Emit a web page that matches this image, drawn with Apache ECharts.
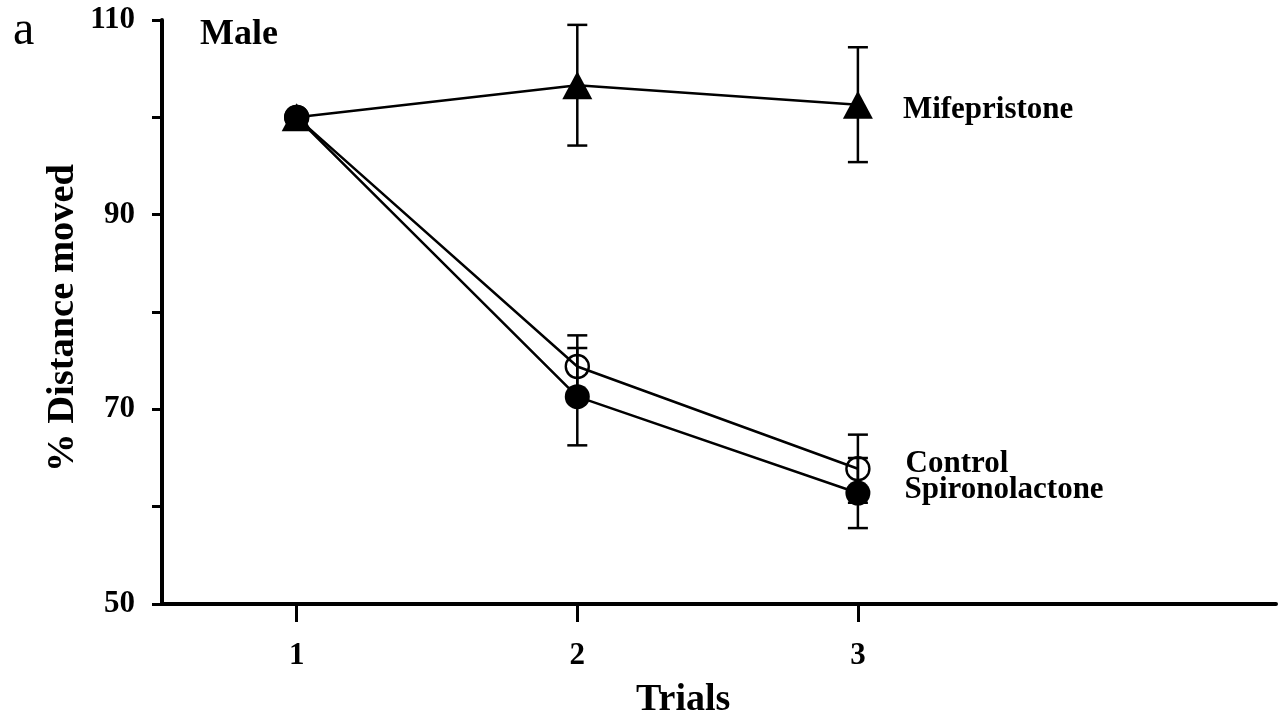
<!DOCTYPE html>
<html>
<head>
<meta charset="utf-8">
<title>Male – % Distance moved across trials</title>
<script src="https://cdn.jsdelivr.net/npm/echarts@6/dist/echarts.min.js"></script>
<style>
  html, body { margin: 0; padding: 0; background: #fff; }
  #chart { width: 1278px; height: 720px; }
</style>
</head>
<body>
<div id="chart"></div>
<script>
// Trial numbers on the x axis
const trials = [1, 2, 3];
const xTickLabels = ['1', '2', '3'];
const yTickLabels = [50, 70, 90, 110];

// Mean % distance moved per trial, with SEM
const mifepristone = [100, 103.3, 101.3];
const mifepristoneErr = [0, 6.2, 5.9];
const control = [100, 74.4, 63.9];
const controlErr = [0, 3.2, 3.5];
const spironolactone = [100, 71.3, 61.4];
const spironolactoneErr = [0, 5.0, 3.6];

const FONT = '"Liberation Serif", "Times New Roman", serif';

function points(values, labelText, labelOffset, labelDistance) {
  return trials.map((t, i) => {
    const item = { value: [t, values[i]] };
    if (i === trials.length - 1) {
      item.label = {
        show: true,
        position: 'right',
        distance: labelDistance,
        offset: labelOffset,
        formatter: labelText,
        color: '#000',
        fontFamily: FONT,
        fontWeight: 'bold',
        fontSize: 31
      };
    }
    return item;
  });
}

function errorData(values, errs) {
  return trials.map((t, i) => [t, values[i] - errs[i], values[i] + errs[i]])
    .filter((d, i) => errs[i] > 0);
}

function errorSeries(values, errs, z) {
  return {
    type: 'custom',
    z: z,
    silent: true,
    data: errorData(values, errs),
    renderItem: function (params, api) {
      const x = api.value(0);
      const lo = api.coord([x, api.value(1)]);
      const hi = api.coord([x, api.value(2)]);
      const half = 10;
      const style = { stroke: '#000', lineWidth: 2.5, fill: null };
      return {
        type: 'group',
        children: [
          { type: 'line', shape: { x1: lo[0], y1: lo[1], x2: hi[0], y2: hi[1] }, style: style },
          { type: 'line', shape: { x1: hi[0] - half, y1: hi[1], x2: hi[0] + half, y2: hi[1] }, style: style },
          { type: 'line', shape: { x1: lo[0] - half, y1: lo[1], x2: lo[0] + half, y2: lo[1] }, style: style }
        ]
      };
    }
  };
}

const chart = echarts.init(document.getElementById('chart'), null, { renderer: 'canvas' });

chart.setOption({
  backgroundColor: '#fff',
  animation: false,
  grid: { left: 162, top: 20, width: 1114, height: 584 },
  xAxis: {
    type: 'value',
    min: 0.52,
    max: 4.49,
    splitLine: { show: false },
    axisLine: { onZero: false, lineStyle: { color: '#000', width: 4 } },
    axisTick: { show: true, length: 18, lineStyle: { color: '#000', width: 3 }, customValues: trials },
    axisLabel: {
      customValues: trials,
      formatter: v => xTickLabels[trials.indexOf(v)] || '',
      margin: 36,
      color: '#000',
      fontFamily: FONT,
      fontWeight: 'bold',
      fontSize: 31
    }
  },
  yAxis: {
    type: 'value',
    min: 50,
    max: 110,
    interval: 10,
    splitLine: { show: false },
    axisLine: { show: true, lineStyle: { color: '#000', width: 4 } },
    axisTick: { show: true, length: 10, lineStyle: { color: '#000', width: 3 } },
    axisLabel: {
      formatter: v => (yTickLabels.indexOf(v) >= 0 ? String(v) : ''),
      margin: 27,
      color: '#000',
      fontFamily: FONT,
      fontWeight: 'bold',
      fontSize: 31
    }
  },
  graphic: [
    {
      type: 'text', left: 13, top: 7,
      style: { text: 'a', fill: '#000', font: 'normal 48px ' + FONT }
    },
    {
      type: 'text', left: 200, top: 17,
      style: { text: 'Male', fill: '#000', font: 'bold 36px ' + FONT }
    },
    {
      type: 'text', left: 636, top: 681,
      style: { text: 'Trials', fill: '#000', font: 'bold 38px ' + FONT }
    },
    {
      type: 'text',
      x: 63, y: 318,
      rotation: Math.PI / 2,
      style: {
        text: '% Distance moved',
        fill: '#000',
        font: 'bold 38.5px ' + FONT,
        align: 'center',
        verticalAlign: 'middle'
      }
    }
  ],
  series: [
    errorSeries(mifepristone, mifepristoneErr, 1),
    errorSeries(control, controlErr, 1),
    errorSeries(spironolactone, spironolactoneErr, 1),
    {
      name: 'Mifepristone',
      type: 'line',
      z: 3,
      data: points(mifepristone, 'Mifepristone', [0, 5], 30),
      symbol: 'triangle',
      symbolSize: [30, 28],
      lineStyle: { color: '#000', width: 2.5 },
      itemStyle: { color: '#000' }
    },
    {
      name: 'Control',
      type: 'line',
      z: 4,
      data: points(control, 'Control', [0, -5], 35),
      symbol: 'circle',
      symbolSize: 23,
      lineStyle: { color: '#000', width: 2.5 },
      itemStyle: { color: 'rgba(0,0,0,0)', borderColor: '#000', borderWidth: 2.4 }
    },
    {
      name: 'Spironolactone',
      type: 'line',
      z: 5,
      data: points(spironolactone, 'Spironolactone', [0, -3], 34),
      symbol: 'circle',
      symbolSize: 25,
      lineStyle: { color: '#000', width: 2.5 },
      itemStyle: { color: '#000' }
    }
  ]
});
</script>
</body>
</html>
